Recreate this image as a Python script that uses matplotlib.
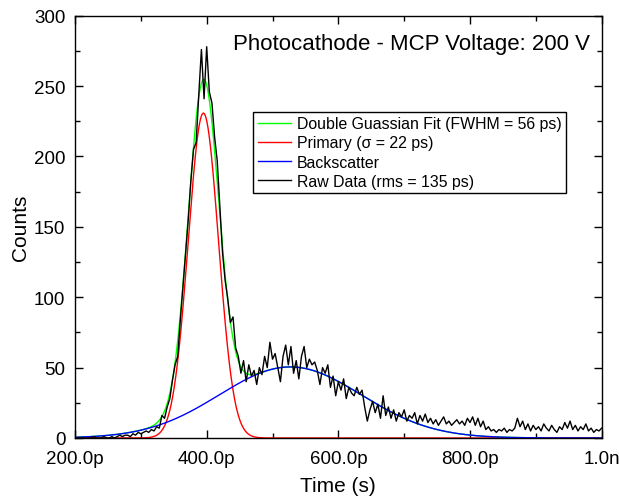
"""
Timing histogram for photocathode - MCP gap at 200 V, with double gaussian fit
"""
import matplotlib.pyplot as plt
import numpy as np

plt.rcParams["font.family"] = ["Liberation Sans", "DejaVu Sans"]

# histogram bins (ps), 4 ps wide
time_ps = np.arange(200, 1001, 4)

# raw counts, one row per 40 ps
raw_counts = [
    0, 0, 0, 0, 0, 0, 0, 1, 0, 0,
    0, 1, 0, 0, 1, 0, 1, 2, 1, 2,
    2, 1, 3, 2, 4, 3, 4, 5, 4, 6,
    5, 8, 7, 16, 14, 22, 28, 41, 52, 58,
    84, 108, 131, 155, 183, 205, 210, 244, 276, 241,
    278, 246, 238, 214, 197, 165, 132, 112, 99, 82,
    86, 64, 58, 46, 55, 40, 52, 44, 48, 38,
    50, 45, 58, 50, 68, 56, 60, 50, 40, 58,
    66, 52, 65, 46, 55, 42, 58, 65, 50, 56,
    52, 54, 48, 38, 50, 46, 52, 36, 44, 30,
    40, 34, 42, 28, 36, 32, 30, 36, 31, 34,
    22, 12, 20, 26, 18, 24, 14, 30, 16, 22,
    14, 20, 12, 18, 15, 20, 12, 16, 14, 18,
    10, 16, 12, 17, 11, 14, 10, 13, 9, 12,
    15, 10, 12, 9, 11, 13, 10, 12, 9, 14,
    11, 15, 9, 14, 8, 12, 6, 8, 5, 6,
    4, 6, 5, 7, 4, 6, 5, 7, 14, 8,
    12, 6, 10, 5, 9, 6, 8, 5, 10, 7,
    5, 9, 6, 4, 8, 6, 11, 7, 12, 6,
    9, 5, 8, 6, 10, 5, 7, 4, 6, 5,
    7,
]

# fit parameters: amplitude (counts), centre (ps), sigma (ps)
primary_fit = [230.8, 395.0, 23.0]
backscatter_fit = [50.5, 527.0, 108.0]

legend_labels = [
    "Double Guassian Fit (FWHM = 56 ps)",
    "Primary (\u03c3 = 22 ps)",
    "Backscatter",
    "Raw Data (rms = 135 ps)",
]

x_ticks = [200, 400, 600, 800, 1000]
x_tick_labels = ["200.0p", "400.0p", "600.0p", "800.0p", "1.0n"]
y_ticks = [0, 50, 100, 150, 200, 250, 300]


def gauss(t, amp, mu, sigma):
    return amp * np.exp(-((t - mu) ** 2) / (2 * sigma**2))


t_fit = np.linspace(200, 1000, 1601)
primary = gauss(t_fit, *primary_fit)
backscatter = gauss(t_fit, *backscatter_fit)
combined = primary + backscatter

fig = plt.figure(figsize=(6.19, 5.02), dpi=100)
ax = fig.add_axes([0.1212, 0.1255, 0.8508, 0.8412])

ax.plot(t_fit, combined, color="#00ff00", lw=1.0, label=legend_labels[0])
ax.plot(t_fit, primary, color="#ff0000", lw=1.0, label=legend_labels[1])
ax.plot(t_fit, backscatter, color="#0000ff", lw=1.0, label=legend_labels[2])
ax.plot(time_ps, raw_counts, color="black", lw=1.0, label=legend_labels[3])

ax.set_xlim(200, 1000)
ax.set_ylim(0, 300)
ax.set_xticks(x_ticks)
ax.set_xticklabels(x_tick_labels)
ax.set_xticks(np.arange(300, 1000, 200), minor=True)
ax.set_yticks(y_ticks)
ax.set_yticks(np.arange(25, 300, 50), minor=True)

ax.tick_params(which="both", direction="in", top=True, right=True,
               labelsize=13.5, width=1.0)
ax.tick_params(which="major", length=6)
ax.tick_params(which="minor", length=3.5)
ax.tick_params(axis="x", pad=9)
ax.tick_params(axis="y", pad=7)
for spine in ax.spines.values():
    spine.set_linewidth(1.0)

ax.set_xlabel("Time (s)", fontsize=15, labelpad=6)
ax.set_ylabel("Counts", fontsize=15, labelpad=3)

ax.text(0.978, 0.921, "Photocathode - MCP Voltage: 200 V", transform=ax.transAxes,
        ha="right", va="baseline", fontsize=16)

leg = ax.legend(loc="upper left", bbox_to_anchor=(0.338, 0.773), borderaxespad=0,
                fontsize=11.4, handlelength=2.1, handletextpad=0.35,
                labelspacing=0.26, borderpad=0.3, fancybox=False, framealpha=1)
leg.get_frame().set_edgecolor("black")
leg.get_frame().set_linewidth(1.0)

fig.savefig("out.png", dpi=100)
